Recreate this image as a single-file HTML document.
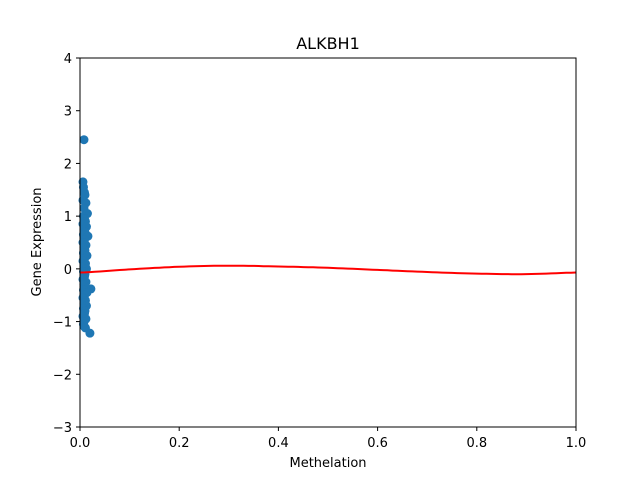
<!DOCTYPE html>
<html><head><meta charset="utf-8"><style>
body{margin:0;background:#fff;font-family:"Liberation Sans","DejaVu Sans",sans-serif}
</style></head><body>
<svg id="chart" width="640" height="480" xmlns="http://www.w3.org/2000/svg" font-family="DejaVu Sans, Liberation Sans, sans-serif">
<rect width="640" height="480" fill="#fff"/>
<g id="pts"></g>
<path id="fit" fill="none" stroke="#ff0000" stroke-width="2"/>
<rect x="80" y="58" width="496" height="369" fill="none" stroke="#000" stroke-width="1"/>
<g id="xt" font-size="13" text-anchor="middle"></g>
<g id="yt" font-size="13" text-anchor="end"></g>
<text x="328" y="49" font-size="16" text-anchor="middle">ALKBH1</text>
<text x="328" y="467" font-size="13" text-anchor="middle">Methelation</text>
<text x="41" y="242" font-size="13" text-anchor="middle" transform="rotate(-90 41 242)">Gene Expression</text>
</svg>
<script>
const xTicks=[0,0.2,0.4,0.6,0.8,1.0];
const xTickLabels=["0.0","0.2","0.4","0.6","0.8","1.0"];
const yTicks=[-3,-2,-1,0,1,2,3,4];
const scatterX=[0.008,0.006,0.007,0.009,0.010,0.006,0.012,0.008,0.015,0.007,0.009,0.011,0.006,0.013,0.008,0.010,0.007,0.016,0.009,0.006,0.012,0.008,0.010,0.007,0.014,0.009,0.006,0.011,0.008,0.013,0.007,0.010,0.009,0.006,0.012,0.008,0.022,0.010,0.007,0.014,0.009,0.006,0.011,0.008,0.013,0.007,0.010,0.009,0.006,0.012,0.008,0.020,0.007,0.009,0.011];
const scatterY=[2.45,1.65,1.55,1.45,1.40,1.30,1.25,1.15,1.05,1.00,0.95,0.90,0.85,0.80,0.75,0.70,0.65,0.62,0.55,0.50,0.45,0.40,0.35,0.30,0.25,0.20,0.15,0.10,0.05,0.00,-0.05,-0.10,-0.15,-0.20,-0.25,-0.30,-0.38,-0.35,-0.40,-0.45,-0.50,-0.55,-0.60,-0.65,-0.70,-0.75,-0.80,-0.85,-0.90,-0.95,-1.00,-1.22,-1.05,-1.10,-1.12];
const fitX=[0,0.1,0.2,0.3,0.4,0.5,0.6,0.7,0.8,0.9,1.0];
const fitY=[-0.07,-0.01,0.04,0.06,0.045,0.02,-0.02,-0.06,-0.09,-0.10,-0.07];
const X=v=>80+v*496, Y=v=>427-(v+3)*369/7;
const NS="http://www.w3.org/2000/svg";
const pts=document.getElementById('pts');
scatterX.forEach((x,i)=>{const c=document.createElementNS(NS,'circle');
c.setAttribute('cx',X(x));c.setAttribute('cy',Y(scatterY[i]));c.setAttribute('r',4.5);c.setAttribute('fill','#1f77b4');


pts.appendChild(c);});
let d='';
for(let i=0;i<fitX.length-1;i++){const x0=fitX[i],x1=fitX[i+1],y0=fitY[i],y1=fitY[i+1];
const ym=i>0?fitY[i-1]:y0,yp=i<fitX.length-2?fitY[i+2]:y1;
for(let s=0;s<=10;s++){const t=s/10;const t2=t*t,t3=t2*t;
const v=0.5*((2*y0)+(-ym+y1)*t+(2*ym-5*y0+4*y1-yp)*t2+(-ym+3*y0-3*y1+yp)*t3);
d+=(d?'L':'M')+X(x0+(x1-x0)*t).toFixed(1)+','+Y(v).toFixed(1);}}
document.getElementById('fit').setAttribute('d',d);
const xt=document.getElementById('xt');
xTicks.forEach((v,i)=>{const l=document.createElementNS(NS,'line');l.setAttribute('x1',X(v));l.setAttribute('x2',X(v));l.setAttribute('y1',427);l.setAttribute('y2',431);l.setAttribute('stroke','#000');


xt.appendChild(l);const t=document.createElementNS(NS,'text');t.setAttribute('x',X(v));t.setAttribute('y',447);t.textContent=xTickLabels[i];


xt.appendChild(t);});
const yt=document.getElementById('yt');
yTicks.forEach(v=>{const l=document.createElementNS(NS,'line');l.setAttribute('x1',76);l.setAttribute('x2',80);l.setAttribute('y1',Y(v));l.setAttribute('y2',Y(v));l.setAttribute('stroke','#000');


yt.appendChild(l);const t=document.createElementNS(NS,'text');t.setAttribute('x',72);t.setAttribute('y',Y(v)+5);t.textContent=v<0?'\u2212'+(-v):String(v);


yt.appendChild(t);});
</script>
</body></html>
